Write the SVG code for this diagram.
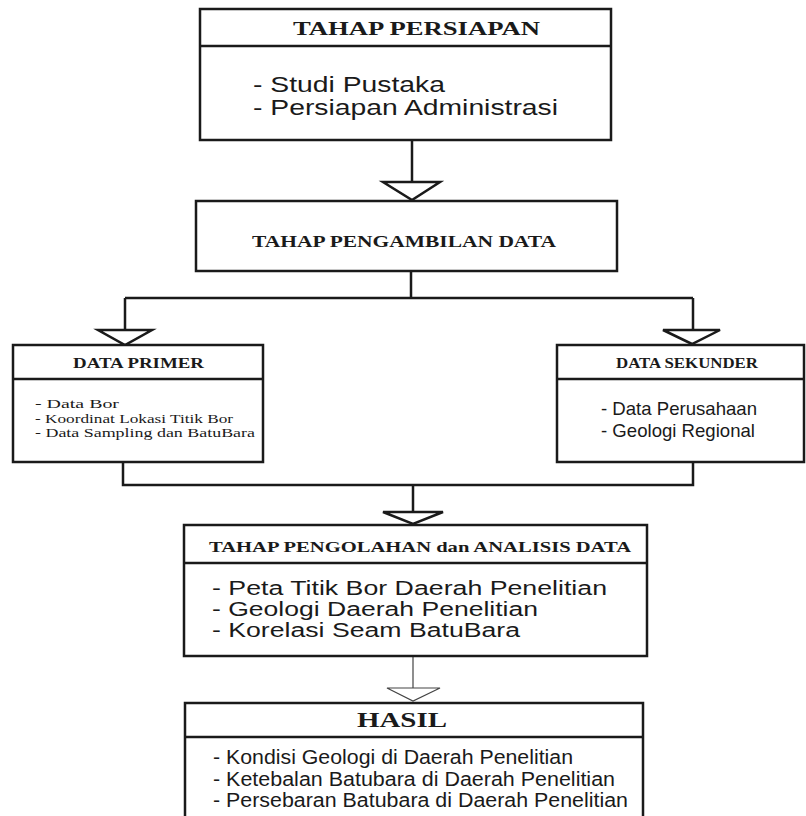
<svg xmlns="http://www.w3.org/2000/svg" width="806" height="816" viewBox="0 0 806 816">
<style>
.box{fill:#fff;stroke:#1a1a1a;stroke-width:2.5}
.div{stroke:#1a1a1a;stroke-width:2.5;fill:none}
.ln{stroke:#1a1a1a;stroke-width:2.5;fill:none}
.tri{fill:#fff;stroke:#1a1a1a;stroke-width:2.5;stroke-linejoin:miter}
.thin{stroke:#444;stroke-width:1.2;fill:none}
.thintri{fill:#fff;stroke:#444;stroke-width:1.2}
.ttl{font-family:"Liberation Serif","Times New Roman",serif;font-weight:bold;fill:#1a1a1a}
.ser{font-family:"Liberation Serif","Times New Roman",serif;fill:#1a1a1a}
.san{font-family:"Liberation Sans",Arial,sans-serif;fill:#1a1a1a}
</style>
<rect width="806" height="816" fill="#fff"/>
<g id="connectors">
<path class="ln" d="M412 140 V182"/>
<polygon class="tri" points="383,182 440,182 412,200"/>
<path class="ln" d="M411 271 V298 M125 298 H693 M125 298 V330 M693 298 V330"/>
<polygon class="tri" points="98,330 152,330 125,345"/>
<polygon class="tri" points="663,330 720,330 692,344"/>
<path class="ln" d="M123 462 V485 H693 V462 M413 485 V512"/>
<polygon class="tri" points="383,512 443,512 413,524"/>
<path class="thin" d="M413 656 V688"/>
<polygon class="thintri" points="387,688 440,688 413,701"/>
</g>
<g id="tahap-persiapan">
<rect class="box" x="200" y="9" width="411" height="131"/>
<path class="div" d="M200 46 H611"/>
<text class="ttl" x="293" y="35" font-size="19" textLength="247" lengthAdjust="spacingAndGlyphs">TAHAP PERSIAPAN</text>
<text class="san" x="253" y="92" font-size="22" textLength="192" lengthAdjust="spacingAndGlyphs">- Studi Pustaka</text>
<text class="san" x="253" y="115" font-size="22" textLength="305" lengthAdjust="spacingAndGlyphs">- Persiapan Administrasi</text>
</g>
<g id="tahap-pengambilan">
<rect class="box" x="196" y="201" width="421" height="70"/>
<text class="ttl" x="252" y="247" font-size="17" textLength="304" lengthAdjust="spacingAndGlyphs">TAHAP PENGAMBILAN DATA</text>
</g>
<g id="data-primer">
<rect class="box" x="13" y="345" width="250" height="117"/>
<path class="div" d="M13 379 H263"/>
<text class="ttl" x="73" y="368" font-size="15" textLength="131" lengthAdjust="spacingAndGlyphs">DATA PRIMER</text>
<text class="ser" x="35" y="408" font-size="13" textLength="84" lengthAdjust="spacingAndGlyphs">- Data Bor</text>
<text class="ser" x="35" y="422.5" font-size="13" textLength="198" lengthAdjust="spacingAndGlyphs">- Koordinat Lokasi Titik Bor</text>
<text class="ser" x="35" y="437" font-size="13" textLength="220" lengthAdjust="spacingAndGlyphs">- Data Sampling dan BatuBara</text>
</g>
<g id="data-sekunder">
<rect class="box" x="557" y="345" width="247" height="117"/>
<path class="div" d="M557 379 H804"/>
<text class="ttl" x="616" y="368" font-size="15" textLength="142" lengthAdjust="spacingAndGlyphs">DATA SEKUNDER</text>
<text class="san" x="601" y="415" font-size="19" textLength="156" lengthAdjust="spacingAndGlyphs">- Data Perusahaan</text>
<text class="san" x="601" y="437" font-size="19" textLength="154" lengthAdjust="spacingAndGlyphs">- Geologi Regional</text>
</g>
<g id="tahap-pengolahan">
<rect class="box" x="184" y="525" width="463" height="131"/>
<path class="div" d="M184 563 H647"/>
<text class="ttl" x="209" y="552" font-size="15" textLength="422" lengthAdjust="spacingAndGlyphs">TAHAP PENGOLAHAN dan ANALISIS DATA</text>
<text class="san" x="212" y="595" font-size="20" textLength="395" lengthAdjust="spacingAndGlyphs">- Peta Titik Bor Daerah Penelitian</text>
<text class="san" x="212" y="616" font-size="20" textLength="326" lengthAdjust="spacingAndGlyphs">- Geologi Daerah Penelitian</text>
<text class="san" x="212" y="637" font-size="20" textLength="308" lengthAdjust="spacingAndGlyphs">- Korelasi Seam BatuBara</text>
</g>
<g id="hasil">
<rect class="box" x="185" y="703" width="458" height="130"/>
<path class="div" d="M185 737 H643"/>
<text class="ttl" x="357" y="727" font-size="20" textLength="90" lengthAdjust="spacingAndGlyphs">HASIL</text>
<text class="san" x="213" y="764" font-size="20" textLength="360" lengthAdjust="spacingAndGlyphs">- Kondisi Geologi di Daerah Penelitian</text>
<text class="san" x="213" y="786" font-size="20" textLength="402" lengthAdjust="spacingAndGlyphs">- Ketebalan Batubara di Daerah Penelitian</text>
<text class="san" x="213" y="807" font-size="20" textLength="415" lengthAdjust="spacingAndGlyphs">- Persebaran Batubara di Daerah Penelitian</text>
</g>
</svg>
